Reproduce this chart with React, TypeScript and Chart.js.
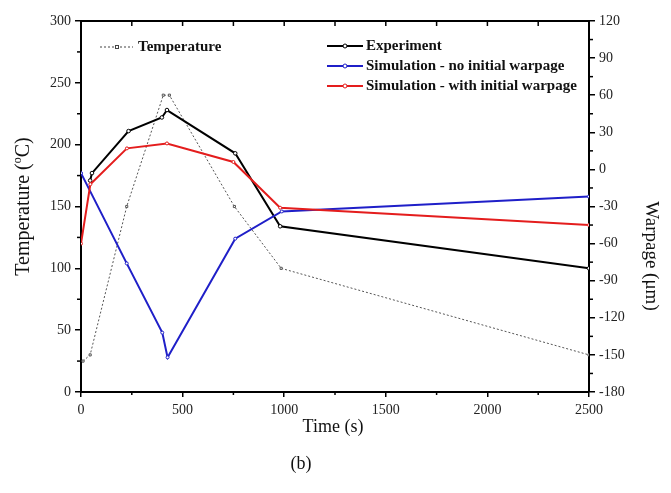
import { useEffect, useRef } from "react";
import { Chart, registerables } from "chart.js";

Chart.register(...registerables);

// Furnace temperature profile (left axis, °C)
const tempTimes = [10, 45, 225, 405, 435, 755, 985, 2500];
const tempValues = [25, 30, 150, 240, 240, 150, 100, 30];

// Measured warpage (right axis, µm)
const expTimes = [45, 54, 234, 398, 423, 759, 980, 2500];
const expWarpage = [-9, -3, 31, 42, 48, 13, -46, -80];

// Simulated warpage without initial warpage
const noInitTimes = [0, 225, 400, 426, 759, 988, 2500];
const noInitWarpage = [-3, -76, -132, -152, -56, -34, -22];

// Simulated warpage with initial warpage
const withInitTimes = [0, 46, 226, 423, 750, 980, 2500];
const withInitWarpage = [-60, -12, 17, 21, 6, -31, -45];

const xTicks = [0, 500, 1000, 1500, 2000, 2500];
const SERIF = '"Liberation Serif", "Times New Roman", serif';

const toPoints = (xs: number[], ys: number[]) => xs.map((x, i) => ({ x, y: ys[i] }));

export default function App() {
  const canvasRef = useRef<HTMLCanvasElement>(null);

  useEffect(() => {
    document.body.style.margin = "0";
    const canvas = canvasRef.current;
    if (!canvas) return;

    const overlay = {
      id: "overlay",
      afterDraw(chart: any) {
        const ctx = chart.ctx as CanvasRenderingContext2D;
        const area = chart.chartArea;
        const sx = chart.scales.x;
        const sy = chart.scales.y;
        const sy2 = chart.scales.y2;
        ctx.save();
        ctx.strokeStyle = "#000";

        // top frame line
        ctx.lineWidth = 2;
        ctx.beginPath();
        ctx.moveTo(area.left - 1, area.top);
        ctx.lineTo(area.right + 1, area.top);
        ctx.stroke();

        ctx.lineWidth = 1.5;
        // top ticks (inward) and bottom minor ticks
        for (let v = 250; v < 2500; v += 250) {
          const px = sx.getPixelForValue(v);
          ctx.beginPath();
          ctx.moveTo(px, area.top);
          ctx.lineTo(px, area.top + 5);
          ctx.stroke();
          if (v % 500 !== 0) {
            ctx.beginPath();
            ctx.moveTo(px, area.bottom);
            ctx.lineTo(px, area.bottom + 3);
            ctx.stroke();
          }
        }
        // left minor ticks
        for (let v = 25; v < 300; v += 50) {
          const py = sy.getPixelForValue(v);
          ctx.beginPath();
          ctx.moveTo(area.left, py);
          ctx.lineTo(area.left - 4, py);
          ctx.stroke();
        }
        // right minor ticks
        for (let v = -165; v < 120; v += 30) {
          const py = sy2.getPixelForValue(v);
          ctx.beginPath();
          ctx.moveTo(area.right, py);
          ctx.lineTo(area.right + 4, py);
          ctx.stroke();
        }

        // axis titles
        ctx.fillStyle = "#111";
        ctx.textBaseline = "middle";
        ctx.font = `18px ${SERIF}`;
        ctx.textAlign = "center";
        ctx.fillText("Time (s)", (area.left + area.right) / 2 - 2, 427);
        ctx.fillText("(b)", 301, 464);

        // left title with superscript degree mark
        ctx.save();
        ctx.translate(24, (area.top + area.bottom) / 2);
        ctx.rotate(-Math.PI / 2);
        const big = `20px ${SERIF}`;
        const small = `12px ${SERIF}`;
        const p1 = "Temperature (";
        const p2 = "o";
        const p3 = "C)";
        ctx.font = big;
        const w1 = ctx.measureText(p1).width;
        const w3 = ctx.measureText(p3).width;
        ctx.font = small;
        const w2 = ctx.measureText(p2).width;
        let x0 = -(w1 + w2 + w3) / 2;
        ctx.textAlign = "left";
        ctx.font = big;
        ctx.fillText(p1, x0, 0);
        x0 += w1;
        ctx.font = small;
        ctx.fillText(p2, x0, -6);
        x0 += w2;
        ctx.font = big;
        ctx.fillText(p3, x0, 0);
        ctx.restore();

        // right title
        ctx.save();
        ctx.translate(651, 256);
        ctx.rotate(Math.PI / 2);
        ctx.textAlign = "center";
        ctx.font = `19px ${SERIF}`;
        ctx.fillText("Warpage (\u03bcm)", 0, 0);
        ctx.restore();

        // temperature legend
        ctx.font = `bold 15px ${SERIF}`;
        ctx.textAlign = "left";
        ctx.strokeStyle = "#444";
        ctx.lineWidth = 1;
        ctx.setLineDash([2, 2]);
        ctx.beginPath();
        ctx.moveTo(100, 47);
        ctx.lineTo(133, 47);
        ctx.stroke();
        ctx.setLineDash([]);
        ctx.fillStyle = "#fff";
        ctx.fillRect(115.5, 45.5, 3, 3);
        ctx.strokeRect(115.5, 45.5, 3, 3);
        ctx.fillStyle = "#111";
        ctx.fillText("Temperature", 138, 47);

        // warpage legend
        const rows = [
          { label: "Experiment", color: "#000", y: 46 },
          { label: "Simulation - no initial warpage", color: "#1f1fc8", y: 66 },
          { label: "Simulation - with initial warpage", color: "#e41d1d", y: 86 },
        ];
        rows.forEach((r) => {
          ctx.strokeStyle = r.color;
          ctx.lineWidth = 2;
          ctx.beginPath();
          ctx.moveTo(327, r.y);
          ctx.lineTo(363, r.y);
          ctx.stroke();
          ctx.fillStyle = "#fff";
          ctx.lineWidth = 1;
          ctx.beginPath();
          ctx.arc(345, r.y, 2, 0, Math.PI * 2);
          ctx.fill();
          ctx.stroke();
          ctx.fillStyle = "#111";
          ctx.fillText(r.label, 366, r.y);
        });
        ctx.restore();
      },
    };

    const tickFont = { family: SERIF, size: 14 };

    const chart = new Chart(canvas, {
      type: "line",
      data: {
        datasets: [
          {
            label: "Temperature",
            data: toPoints(tempTimes, tempValues),
            yAxisID: "y",
            borderColor: "#555",
            borderWidth: 1,
            borderDash: [2, 2],
            pointStyle: "rect",
            pointRadius: 1.5,
            pointBorderWidth: 1,
            pointBackgroundColor: "#fff",
            pointBorderColor: "#555",
            order: 4,
          },
          {
            label: "Experiment",
            data: toPoints(expTimes, expWarpage),
            yAxisID: "y2",
            borderColor: "#000",
            borderWidth: 2,
            pointRadius: 1.8,
            pointBorderWidth: 1,
            pointBackgroundColor: "#fff",
            pointBorderColor: "#000",
            order: 3,
          },
          {
            label: "Simulation - no initial warpage",
            data: toPoints(noInitTimes, noInitWarpage),
            yAxisID: "y2",
            borderColor: "#1f1fc8",
            borderWidth: 2,
            pointRadius: 1.5,
            pointBorderWidth: 1,
            pointBackgroundColor: "#fff",
            pointBorderColor: "#1f1fc8",
            order: 2,
          },
          {
            label: "Simulation - with initial warpage",
            data: toPoints(withInitTimes, withInitWarpage),
            yAxisID: "y2",
            borderColor: "#e41d1d",
            borderWidth: 2,
            pointRadius: 1.5,
            pointBorderWidth: 1,
            pointBackgroundColor: "#fff",
            pointBorderColor: "#e41d1d",
            order: 1,
          },
        ],
      },
      options: {
        responsive: false,
        animation: false,
        layout: { padding: { top: 21, left: 0, right: 0, bottom: 0 } },
        plugins: {
          legend: { display: false },
          tooltip: { enabled: false },
        },
        scales: {
          x: {
            type: "linear",
            position: "bottom",
            min: 0,
            max: 2500,
            afterBuildTicks: (s: any) => {
              s.ticks = xTicks.map((v) => ({ value: v }));
            },
            ticks: {
              font: tickFont,
              color: "#222",
              padding: 5,
              maxRotation: 0,
              callback: (v: any) => String(v),
            },
            grid: { drawOnChartArea: false, drawTicks: true, tickLength: 5, color: "#000", lineWidth: 1.5 },
            border: { display: true, color: "#000", width: 2 },
            afterFit: (s: any) => {
              s.height = 101;
            },
          },
          y: {
            type: "linear",
            position: "left",
            min: 0,
            max: 300,
            ticks: { stepSize: 50, font: tickFont, color: "#222", padding: 4 },
            grid: { drawOnChartArea: false, drawTicks: true, tickLength: 6, color: "#000", lineWidth: 1.5 },
            border: { display: true, color: "#000", width: 2 },
            afterFit: (s: any) => {
              s.width = 81;
            },
          },
          y2: {
            type: "linear",
            position: "right",
            min: -180,
            max: 120,
            ticks: { stepSize: 30, font: tickFont, color: "#222", padding: 4 },
            grid: { drawOnChartArea: false, drawTicks: true, tickLength: 6, color: "#000", lineWidth: 1.5 },
            border: { display: true, color: "#000", width: 2 },
            afterFit: (s: any) => {
              s.width = 82;
            },
          },
        },
      },
      plugins: [overlay],
    });

    return () => chart.destroy();
  }, []);

  return (
    <div style={{ width: 671, height: 493, background: "#fff" }}>
      <canvas ref={canvasRef} width={671} height={493} style={{ display: "block" }} />
    </div>
  );
}
